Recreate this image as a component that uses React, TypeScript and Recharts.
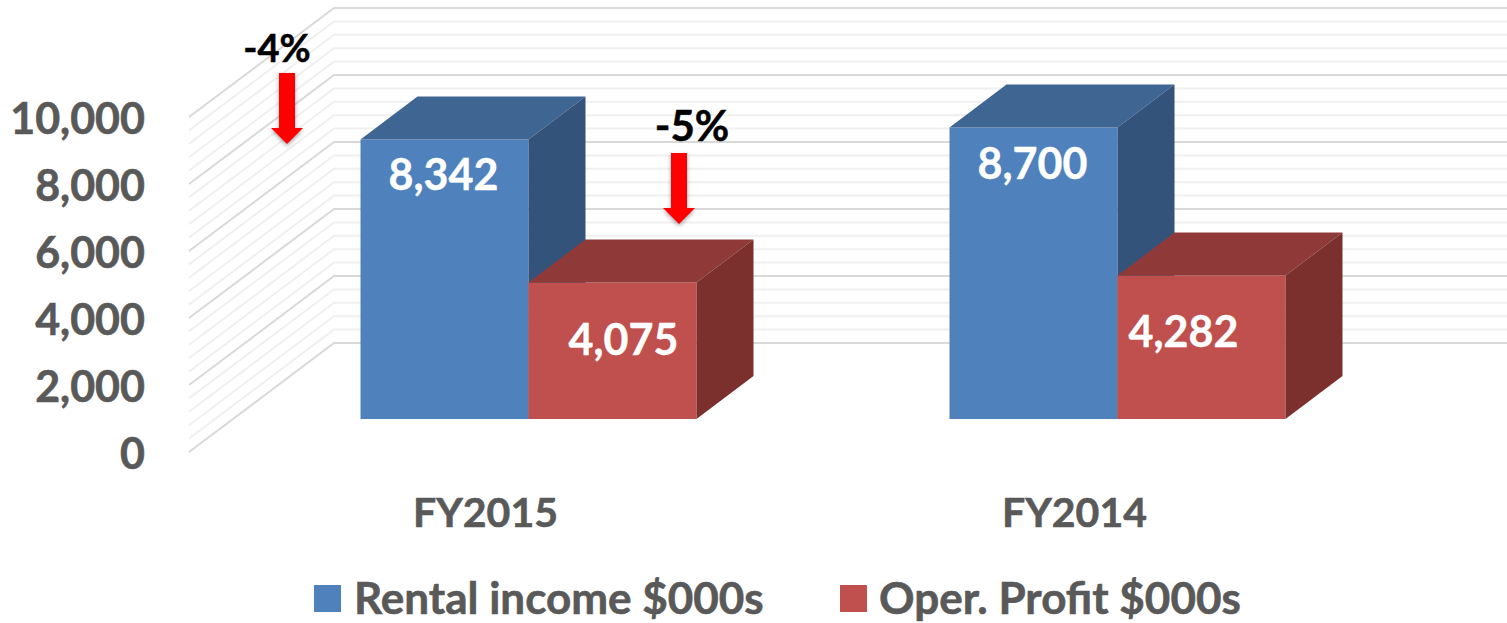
import { BarChart, Bar, XAxis, YAxis, CartesianGrid, LabelList, Legend } from 'recharts';

const categories = ["FY2015", "FY2014"];
const rentalIncome = [8342, 8700];
const operProfit = [4075, 4282];
const majorTicks = [0, 2000, 4000, 6000, 8000, 10000];
const minorTicks = [400, 800, 1200, 1600, 2400, 2800, 3200, 3600, 4400, 4800, 5200, 5600, 6400, 6800, 7200, 7600, 8400, 8800, 9200, 9600];

const data = categories.map((name, i) => ({
  name,
  rental: rentalIncome[i],
  profit: operProfit[i],
}));

const FONT = "Lato, sans-serif";
const GREY = "#595959";

// 3D look: how far the top and side faces go back
const DEPTH_X = 57;
const DEPTH_Y = 43;

const Box3D = (colors: { front: string; top: string; side: string }) => (props: any) => {
  const { x, y, width, height } = props;
  const r = x + width;
  const b = y + height;
  return (
    <g>
      <rect x={x} y={y} width={width} height={height} fill={colors.front} />
      <polygon
        points={`${x},${y} ${x + DEPTH_X},${y - DEPTH_Y} ${r + DEPTH_X},${y - DEPTH_Y} ${r},${y}`}
        fill={colors.top}
      />
      <polygon
        points={`${r},${y} ${r + DEPTH_X},${y - DEPTH_Y} ${r + DEPTH_X},${b - DEPTH_Y} ${r},${b}`}
        fill={colors.side}
      />
    </g>
  );
};

// grid line runs along the left wall, then across the back wall
const wallLine = (stroke: string, strokeWidth: number) => (props: any) => (
  <polyline
    key={props.y1}
    points={`189,${props.y1 + 33} 334,${props.y1 - 76} 1507,${props.y1 - 76}`}
    fill="none"
    stroke={stroke}
    strokeWidth={strokeWidth}
  />
);

const YTick = (props: any) => (
  <text x={145} y={props.y + 35} dy="0.35em" textAnchor="end" fontFamily={FONT} fontWeight={700} fontSize={43} fill={GREY} stroke={GREY} strokeWidth={0.6}>
    {props.payload.value.toLocaleString("en-US")}
  </text>
);

const XTick = (props: any) => (
  <text x={props.x - 43} y={513} dy="0.35em" textAnchor="middle" fontFamily={FONT} fontWeight={700} fontSize={41} fill={GREY} stroke={GREY} strokeWidth={0.6}>
    {props.payload.value}
  </text>
);

const valueLabel = (shiftX: number[], shiftY: number[]) => (props: any) => (
  <text
    x={props.x + props.width / 2 + shiftX[props.index]}
    y={props.y + shiftY[props.index]}
    dy="0.35em"
    textAnchor="middle"
    fontFamily={FONT}
    fontWeight={700}
    fontSize={43}
    fill="#fff"
    stroke="#fff"
    strokeWidth={0.4}
  >
    {props.value.toLocaleString("en-US")}
  </text>
);

const LegendRow = (props: any) => (
  <div style={{ position: "relative", height: 53, fontFamily: FONT, fontWeight: 700, fontSize: 44, color: GREY, WebkitTextStroke: `0.6px ${GREY}` }}>
    {props.payload.map((item: any, i: number) => (
      <div key={item.value}>
        <div style={{ position: "absolute", left: i === 0 ? 314 : 840, top: 15, width: 27, height: 27, background: item.color }} />
        <div style={{ position: "absolute", left: i === 0 ? 354 : 879, top: 2, lineHeight: "50px", whiteSpace: "nowrap" }}>{item.value}</div>
      </div>
    ))}
  </div>
);

const DownArrow = ({ cx, top, label, labelX, labelY, size }: any) => (
  <g>
    <polygon
      points={`${cx - 8},${top} ${cx + 8},${top} ${cx + 8},${top + 55} ${cx + 16},${top + 55} ${cx},${top + 71} ${cx - 16},${top + 55} ${cx - 8},${top + 55}`}
      fill="#FF0000"
      style={{ filter: "drop-shadow(0px 2px 2px rgba(0,0,0,0.35))" }}
    />
    <text x={labelX} y={labelY} dy="0.35em" textAnchor="middle" fontFamily={FONT} fontWeight={700} fontSize={size} fill="#000" stroke="#000" strokeWidth={0.5}>
      {label}
    </text>
  </g>
);

export default function App() {
  return (
    <div style={{ position: "absolute", left: 0, top: 0, width: 1507, height: 623, overflow: "hidden", background: "#fff" }}>
      <BarChart
        width={1507}
        height={623}
        data={data}
        margin={{ top: 84, right: 95, bottom: 0, left: 0 }}
        barCategoryGap={126.5}
        barGap={0}
        style={{ overflow: "visible" }}
      >
        <CartesianGrid vertical={false} horizontalValues={minorTicks} horizontal={wallLine("#F0F0F0", 2)} />
        <CartesianGrid vertical={false} horizontalValues={majorTicks} horizontal={wallLine("#D9D9D9", 2)} />
        <XAxis dataKey="name" axisLine={false} tickLine={false} height={151} tick={XTick} interval={0} />
        <YAxis domain={[0, 10000]} ticks={majorTicks} width={234} axisLine={false} tickLine={false} tick={YTick} interval={0} />
        <Legend height={53} verticalAlign="bottom" itemSorter={null} content={LegendRow} />
        <Bar
          dataKey="rental"
          name="Rental income $000s"
          fill="#4F81BD"
          isAnimationActive={false}
          shape={Box3D({ front: "#4F81BD", top: "#3F6592", side: "#33537A" })}
        >
          <LabelList dataKey="rental" content={valueLabel([-1, -1], [35, 36])} />
        </Bar>
        <Bar
          dataKey="profit"
          name="Oper. Profit $000s"
          fill="#C0504D"
          isAnimationActive={false}
          shape={Box3D({ front: "#C0504D", top: "#8F3A38", side: "#7C302E" })}
        >
          <LabelList dataKey="profit" content={valueLabel([11, -18], [57, 56])} />
        </Bar>
        <DownArrow cx={287} top={73} label="-4%" labelX={277} labelY={49} size={38} />
        <DownArrow cx={679} top={153} label="-5%" labelX={692} labelY={126} size={42} />
      </BarChart>
    </div>
  );
}
